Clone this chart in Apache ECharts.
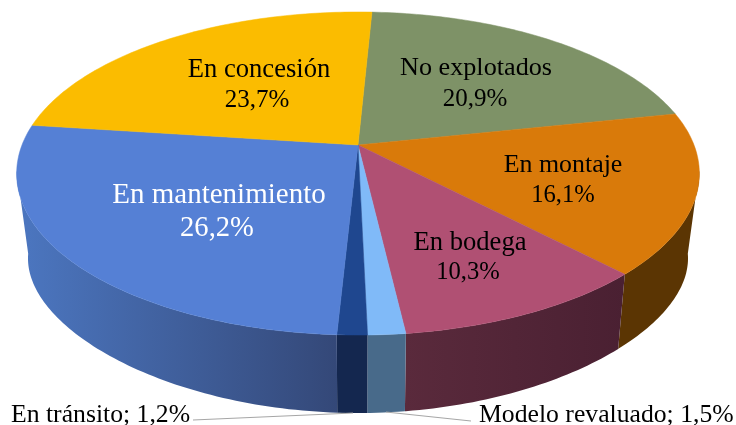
<!DOCTYPE html>
<html>
<head>
<meta charset="utf-8">
<style>html,body{margin:0;padding:0;background:#fff}#chart{width:736px;height:425px}</style>
<script src="https://cdn.jsdelivr.net/npm/echarts@6/dist/echarts.min.js"></script>
</head>
<body>
<div id="chart"></div>
<script>
// ---- data ----
const categories = ['No explotados','En montaje','En bodega','Modelo revaluado','En tránsito','En mantenimiento','En concesión'];
const shares = [20.9,16.1,10.3,1.5,1.2,26.2,23.7];

// ---- styles ----
const topColors = ['#7E9267','#D97A0A','#B05073','#80BAF8','#1F478F','#5580D5','#FBBC00'];
const wallFrom  = ['#5B3503','#5B3503','#4A2032','#486A8A','#14274F','#344878','#5B3503'];
const wallTo    = ['#5B3503','#5B3503','#5A2A3C','#486A8A','#14274F','#4B75BE','#5B3503'];

// ---- layout (label placement and pie projection) ----
const labelStyle = [
  {name:[476,68,26.2],pct:[475,99,25],fill:'#000'},
  {name:[563,165,25.9],pct:[563,196,24.6],fill:'#000'},
  {name:[470,243,26.6],pct:[468,273,24.6],fill:'#000'},
  {one:[479,415,25.7],fill:'#000',line:[[386,412],[471,421]]},
  {one:[11,415,25.7],fill:'#000',line:[[193,420],[353,413]]},
  {name:[219,195,29],pct:[217,228,28.6],fill:'#fff'},
  {name:[259,70,26.6],pct:[257,100,25],fill:'#000'}
];
const startAngle = 2.8, CX = 358;
const topRim = {cy:145, rx:336, ry:156.5, kx:0.1765, ky:0.1765};
const lowRim = {cy:233, rx:324, ry:126, kx:0.19, ky:0.30};
const WALL_FROM = 99, WALL_TO = 261;

function project(rim, deg, r){
  const a = deg*Math.PI/180, u = r*Math.sin(a), v = -r*Math.cos(a);
  return [CX + rim.rx*u/(1-rim.kx*v), rim.cy + rim.ry*v/(1-rim.ky*v)];
}
const total = shares.reduce((a,b)=>a+b,0);
const pctText = i => shares[i].toFixed(1).replace('.',',')+'%';

function arc(rim,a,b){
  const out=[];
  for(let d=a;d<b;d+=1) out.push(project(rim,d,1));
  out.push(project(rim,b,1));
  return out;
}
function renderSlice(params, api){
  const i = params.dataIndex;
  let before = 0;
  for(let k=0;k<i;k++) before += shares[k];
  const a0 = startAngle + before/total*360;
  const a1 = a0 + api.value(1)/total*360;
  const children = [];
  // side wall
  const w0 = Math.max(a0,WALL_FROM), w1 = Math.min(a1,WALL_TO);
  if(w1>w0){
    const upper=arc(topRim,w0,w1), lower=arc(lowRim,w0,w1).reverse();
    const x0=upper[0][0], x1=lower[0][0];
    const fill=new echarts.graphic.LinearGradient(x0,0,x1,0,[{offset:0,color:wallFrom[i]},{offset:1,color:wallTo[i]}],true);
    children.push({type:'polygon',shape:{points:upper.concat(lower)},style:{fill:fill}});
  }
  // top face
  const pts=[[CX,topRim.cy]].concat(arc(topRim,a0,a1));
  children.push({type:'polygon',shape:{points:pts},style:{fill:topColors[i],stroke:topColors[i],lineWidth:0.5}});
  return {type:'group',children};
}
function textEl(text,spec,fill,align){
  return {type:'text',style:{text:text,x:spec[0],y:spec[1],fill:fill,
    font:spec[2]+'px "Liberation Serif"',textAlign:align,textVerticalAlign:'middle'}};
}
function renderLabel(params, api){
  const i=params.dataIndex, L=labelStyle[i], children=[];
  if(L.line) children.push({type:'polyline',shape:{points:L.line},style:{fill:null,stroke:'#A6A6A6',lineWidth:1}});
  if(L.one) children.push(textEl(categories[i]+'; '+pctText(i),L.one,L.fill,'left'));
  else {
    children.push(textEl(categories[i],L.name,L.fill,'center'));
    children.push(textEl(pctText(i),L.pct,L.fill,'center'));
  }
  return {type:'group',children};
}
const seriesData = categories.map((c,i)=>({name:c,value:[i,shares[i]]}));
const chart = echarts.init(document.getElementById('chart'),null,{renderer:'canvas'});
chart.setOption({
  animation:false,
  backgroundColor:'#fff',
  series:[
    {type:'custom',coordinateSystem:'none',renderItem:renderSlice,data:seriesData,silent:true,z:1},
    {type:'custom',coordinateSystem:'none',renderItem:renderLabel,data:seriesData,silent:true,z:2}
  ]
});
</script>
</body>
</html>
